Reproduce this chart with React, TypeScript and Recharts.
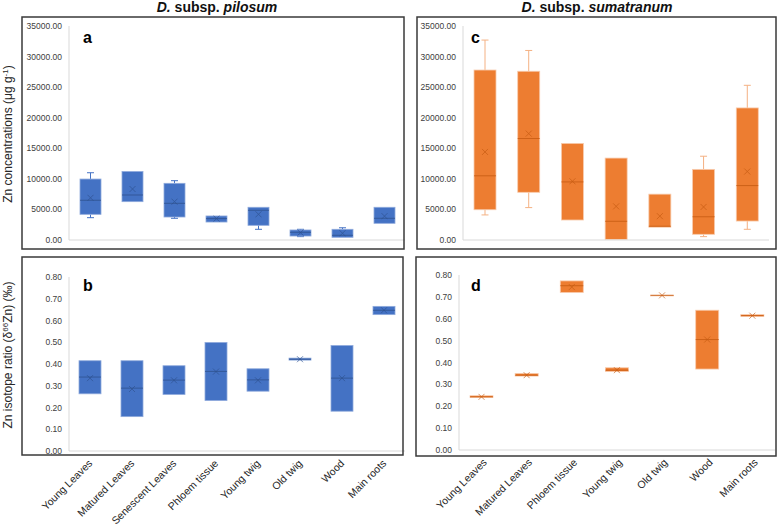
import React from "react";
import { ComposedChart, Bar, XAxis, YAxis } from "recharts";

const FONT = "Liberation Sans, Arial, sans-serif";

const pilosumTissues = [
  "Young Leaves",
  "Matured Leaves",
  "Senescent Leaves",
  "Phloem tissue",
  "Young twig",
  "Old twig",
  "Wood",
  "Main roots",
];
const sumatranumTissues = [
  "Young Leaves",
  "Matured Leaves",
  "Phloem tissue",
  "Young twig",
  "Old twig",
  "Wood",
  "Main roots",
];

// panel a - Zn concentration, subsp. pilosum
const znPilMin = [3650, 6270, 3550, 2940, 1750, 550, 440, 2730];
const znPilQ1 = [4200, 6270, 3760, 2940, 2400, 650, 440, 2730];
const znPilMedian = [6500, 7360, 6000, 3500, 4860, 1260, 770, 3550];
const znPilQ3 = [9970, 11200, 9270, 3930, 5350, 1640, 1750, 5350];
const znPilMax = [11000, 11200, 9700, 3930, 5350, 1750, 2000, 5350];
const znPilMean = [6900, 8340, 6270, 3500, 4200, 1200, 1100, 3900];

// panel c - Zn concentration, subsp. sumatranum
const znSumMin = [4100, 5300, 3270, 100, 2100, 550, 1750];
const znSumQ1 = [4950, 7800, 3270, 100, 2100, 930, 3100];
const znSumMedian = [10500, 16600, 9500, 3060, 2250, 3800, 8900];
const znSumQ3 = [27800, 27600, 15800, 13400, 7500, 11550, 21600];
const znSumMax = [32700, 31000, 15800, 13400, 7500, 13700, 25300];
const znSumMean = [14400, 17400, 9600, 5500, 3900, 5400, 11200];

// panel b - delta66Zn, subsp. pilosum
const dPilQ1 = [0.263, 0.158, 0.26, 0.232, 0.275, 0.418, 0.183, 0.627];
const dPilMedian = [0.34, 0.289, 0.326, 0.366, 0.327, 0.422, 0.335, 0.647];
const dPilQ3 = [0.415, 0.415, 0.392, 0.499, 0.378, 0.427, 0.485, 0.665];
const dPilMean = [0.335, 0.285, 0.325, 0.365, 0.325, 0.422, 0.335, 0.647];

// panel d - delta66Zn, subsp. sumatranum
const dSumQ1 = [0.24, 0.338, 0.72, 0.359, 0.706, 0.37, 0.611];
const dSumMedian = [0.243, 0.342, 0.751, 0.365, 0.707, 0.505, 0.614];
const dSumQ3 = [0.248, 0.35, 0.773, 0.376, 0.708, 0.639, 0.619];
const dSumMean = [0.243, 0.342, 0.745, 0.365, 0.707, 0.505, 0.614];

const znTicks = [0, 5000, 10000, 15000, 20000, 25000, 30000, 35000];
const deltaTicks = [0, 0.1, 0.2, 0.3, 0.4, 0.5, 0.6, 0.7, 0.8];

const BLUE = { fill: "#4472C4", edge: "#8FAADC", whisker: "#4472C4", median: "#2F528F", mean: "#2F528F" };
const ORANGE = { fill: "#ED7D31", edge: "#F8CBAD", whisker: "#F4B183", median: "#C55A11", mean: "#C55A11" };

const rows = (names: string[], min: number[], q1: number[], med: number[], q3: number[], max: number[], mean: number[]) =>
  names.map((tissue, i) => ({ tissue, min: min[i], q1: q1[i], median: med[i], q3: q3[i], max: max[i], mean: mean[i] }));

const dataA = rows(pilosumTissues, znPilMin, znPilQ1, znPilMedian, znPilQ3, znPilMax, znPilMean);
const dataC = rows(sumatranumTissues, znSumMin, znSumQ1, znSumMedian, znSumQ3, znSumMax, znSumMean);
const dataB = rows(pilosumTissues, dPilQ1, dPilQ1, dPilMedian, dPilQ3, dPilQ3, dPilMean);
const dataD = rows(sumatranumTissues, dSumQ1, dSumQ1, dSumMedian, dSumQ3, dSumQ3, dSumMean);

// bar runs 0..max, so value -> pixel comes from the bar's own geometry
const BoxShape = (props: any) => {
  const { x, y, width, height, payload, palette } = props;
  const top = payload.max;
  const py = (v: number) => y + height - (v / top) * height;
  const cx = x + width / 2;
  const yMax = py(payload.max);
  const yQ3 = py(payload.q3);
  const yMed = py(payload.median);
  const yQ1 = py(payload.q1);
  const yMin = py(payload.min);
  const yMean = py(payload.mean);
  const cap = 3.5;
  const m = 3;
  return (
    <g>
      {payload.max > payload.q3 && (
        <g stroke={palette.whisker} strokeWidth={1}>
          <line x1={cx} x2={cx} y1={yMax} y2={yQ3} />
          <line x1={cx - cap} x2={cx + cap} y1={yMax} y2={yMax} />
        </g>
      )}
      {payload.min < payload.q1 && (
        <g stroke={palette.whisker} strokeWidth={1}>
          <line x1={cx} x2={cx} y1={yQ1} y2={yMin} />
          <line x1={cx - cap} x2={cx + cap} y1={yMin} y2={yMin} />
        </g>
      )}
      <rect
        x={x}
        y={yQ3}
        width={width}
        height={Math.max(yQ1 - yQ3, 0.8)}
        fill={palette.fill}
        stroke={palette.edge}
        strokeWidth={0.8}
      />
      <line x1={x} x2={x + width} y1={yMed} y2={yMed} stroke={palette.median} strokeWidth={0.8} />
      <g stroke={palette.mean} strokeWidth={0.8} opacity={0.8}>
        <line x1={cx - m} x2={cx + m} y1={yMean - m} y2={yMean + m} />
        <line x1={cx - m} x2={cx + m} y1={yMean + m} y2={yMean - m} />
      </g>
    </g>
  );
};

const SlantTick = (props: any) => {
  const { x, y, payload, dx } = props;
  return (
    <g transform={`translate(${x + dx},${y + 13})`}>
      <text textAnchor="end" transform="rotate(-45)" fontSize={10.5} fill="#262626" fontFamily={FONT}>
        {payload.value}
      </text>
    </g>
  );
};

interface PanelProps {
  left: number;
  top: number;
  width: number;
  height: number;
  yWidth: number;
  marginTop: number;
  xHeight: number;
  data: any[];
  ticks: number[];
  palette: any;
  barSize: number;
  showX: boolean;
  tickDx?: number;
}

const Panel = ({ left, top, width, height, yWidth, marginTop, xHeight, data, ticks, palette, barSize, showX, tickDx = 3 }: PanelProps) => (
  <div style={{ position: "absolute", left, top, width, height }}>
    <ComposedChart width={width} height={height} data={data} margin={{ top: marginTop, right: 0, bottom: 0, left: 0 }}>
      <XAxis
        dataKey="tissue"
        height={xHeight}
        axisLine={{ stroke: "#d9d9d9" }}
        tickLine={false}
        tickSize={0}
        tickMargin={0}
        interval={0}
        tick={showX ? <SlantTick dx={tickDx} /> : false}
      />
      <YAxis
        width={yWidth}
        domain={[ticks[0], ticks[ticks.length - 1]]}
        ticks={ticks}
        type="number"
        axisLine={{ stroke: "#d9d9d9" }}
        tickLine={false}
        tickSize={0}
        tickMargin={7}
        tickFormatter={(v: number) => v.toFixed(2)}
        tick={{ fontSize: 8.5, fill: "#404040", fontFamily: FONT }}
      />
      <Bar
        dataKey="max"
        barSize={barSize}
        isAnimationActive={false}
        shape={(p: any) => <BoxShape {...p} palette={palette} />}
      />
    </ComposedChart>
  </div>
);

const App = () => (
  <div style={{ position: "absolute", left: 0, top: 0, width: 778, height: 526, background: "#fff", fontFamily: FONT }}>
    <Panel left={0} top={17} width={405} height={232} yWidth={69} marginTop={9} xHeight={9} data={dataA} ticks={znTicks} palette={BLUE} barSize={21} showX={false} />
    <Panel left={410} top={17} width={359} height={232} yWidth={53} marginTop={9} xHeight={9} data={dataC} ticks={znTicks} palette={ORANGE} barSize={22} showX={false} />
    <Panel left={0} top={257} width={405} height={269} yWidth={69} marginTop={20} xHeight={75} data={dataB} ticks={deltaTicks} palette={BLUE} barSize={22} showX tickDx={3} />
    <Panel left={405} top={257} width={370} height={269} yWidth={54} marginTop={18} xHeight={76} data={dataD} ticks={deltaTicks} palette={ORANGE} barSize={23} showX tickDx={6} />

    <svg width={778} height={526} style={{ position: "absolute", left: 0, top: 0, pointerEvents: "none" }}>
      <g fill="none" stroke="#3a3a3a" strokeWidth={1.5}>
        <rect x={22} y={17} width={382} height={232} />
        <rect x={417} y={17} width={359} height={232} />
        <rect x={22} y={257} width={381} height={198} />
        <rect x={416} y={257} width={360} height={199} />
      </g>
      <text x={217} y={12} textAnchor="middle" fontSize={14} fontWeight="bold" fontFamily={FONT} fill="#111">
        <tspan fontStyle="italic">D.</tspan> subsp. <tspan fontStyle="italic">pilosum</tspan>
      </text>
      <text x={597} y={12} textAnchor="middle" fontSize={14} fontWeight="bold" fontFamily={FONT} fill="#111">
        <tspan fontStyle="italic">D.</tspan> subsp. <tspan fontStyle="italic">sumatranum</tspan>
      </text>
      <g fontSize={16} fontWeight="bold" fontFamily={FONT} fill="#000">
        <text x={83} y={43}>a</text>
        <text x={471} y={43}>c</text>
        <text x={83} y={291}>b</text>
        <text x={471} y={291}>d</text>
      </g>
      <text transform="translate(12,134) rotate(-90)" textAnchor="middle" fontSize={12} fontFamily={FONT} fill="#262626">
        Zn concentrations (μg g<tspan dy={-4} fontSize={8}>-1</tspan><tspan dy={4}>)</tspan>
      </text>
      <text transform="translate(12,355) rotate(-90)" textAnchor="middle" fontSize={12} fontFamily={FONT} fill="#262626">
        Zn isotope ratio (δ<tspan dy={-4} fontSize={8}>66</tspan><tspan dy={4}>Zn) (‰)</tspan>
      </text>
    </svg>
  </div>
);

export default App;
